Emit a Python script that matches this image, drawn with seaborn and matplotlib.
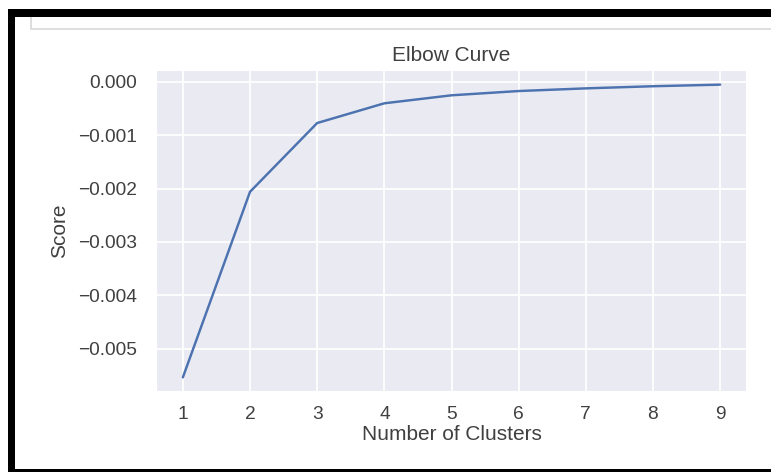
import matplotlib
matplotlib.use("Agg")
import matplotlib.pyplot as plt
from matplotlib.patches import Rectangle
from matplotlib.lines import Line2D
import seaborn as sns
import pandas as pd

clusters = [1, 2, 3, 4, 5, 6, 7, 8, 9]
scores = [-0.00554, -0.00206, -0.00077, -0.00040, -0.00025, -0.00017, -0.00012, -0.00008, -0.00005]
title = "Elbow Curve"
xlabel = "Number of Clusters"
ylabel = "Score"

sns.set_theme(context="notebook", style="darkgrid",
              rc={"grid.linewidth": 1.0, "text.color": ".25",
                  "axes.labelcolor": ".25", "xtick.color": ".25", "ytick.color": ".25"})
plt.rcParams["font.family"] = ["Liberation Sans", "DejaVu Sans"]

W, H = 771, 472
DPI = 125
fig = plt.figure(figsize=(W / DPI, H / DPI), dpi=DPI)
ax = fig.add_axes([156 / W, 1 - 392 / H, (747 - 156) / W, (392 - 70) / H])

df = pd.DataFrame({"clusters": clusters, "score": scores})
sns.lineplot(data=df, x="clusters", y="score", ax=ax, color="#4c72b0", linewidth=1.4)

ax.set_title(title, fontsize=12, pad=5)
ax.set_xlabel(xlabel, fontsize=12, labelpad=1)
ax.set_ylabel(ylabel, fontsize=12, labelpad=5)
ax.set_xticks(clusters)
ax.tick_params(axis="x", length=0, pad=8, labelsize=11)
ax.tick_params(axis="y", length=0, pad=11, labelsize=11)


def px_rect(x0, y0, x1, y1, color):
    fig.add_artist(Rectangle((x0 / W, 1 - y1 / H), (x1 - x0) / W, (y1 - y0) / H,
                             transform=fig.transFigure, facecolor=color,
                             edgecolor="none", zorder=10))


# screenshot frame decorations
px_rect(8, 9, W, 17, "black")
px_rect(8, 9, 15, H, "black")
px_rect(8, 469, W, H, "black")
fig.add_artist(Line2D([31 / W, 31 / W, 1], [1 - 17 / H, 1 - 29 / H, 1 - 29 / H],
                      transform=fig.transFigure, color="#d9d9d9", linewidth=1.0, zorder=9))

fig.savefig("out.png", dpi=DPI)
